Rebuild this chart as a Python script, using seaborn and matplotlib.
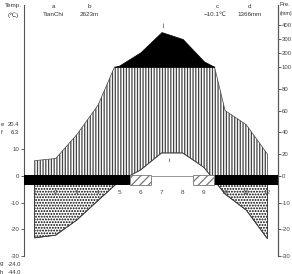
import numpy as np
import pandas as pd
import matplotlib
matplotlib.use("Agg")
import matplotlib.pyplot as plt
import seaborn as sns

# ---- data -------------------------------------------------------------
months = np.arange(1, 13)
month_labels = [str(m) for m in months]
temp = np.array([-23.2, -22.2, -16.5, -9.2, -2.0, 2.2, 8.6, 8.6, 3.2, -6.8, -12.8, -23.5])   # deg C
precip = np.array([14, 16, 38, 65, 110, 205, 350, 300, 140, 60, 47, 20])                     # mm
frost_months = [1, 2, 3, 4, 5, 10, 11, 12]          # mean minimum below 0
prob_frost_months = [6, 9]                          # absolute minimum below 0
station = "TianChi"
altitude = "2623m"
mean_temp = "\u221210.1\u2103"
annual_precip = "1366mm"
e_val, f_val = "20.4", "6.3"
g_val, h_val = "-24.0", "-44.0"
temp_ticks = [-30, -20, -10, 0, 10]
prec_ticks = [0, 20, 40, 60, 80, 100, 200, 300, 400]
neg_ticks = [-10, -20, -30]

# ---- scale rules of the diagram ----------------------------------------
R = 2.45          # mm per degC
C = 0.128         # compression above 100 mm


def fwd(p):
    p = np.asarray(p, dtype=float)
    return np.where(p <= 100, p, 100 + (p - 100) * C)


def inv(q):
    q = np.asarray(q, dtype=float)
    return np.where(q <= 100, q, 100 + (q - 100) / C)


sns.set_style("white")
plt.rcParams["font.family"] = ["Liberation Sans", "DejaVu Sans"]
plt.rcParams["hatch.linewidth"] = 0.9

fig = plt.figure(figsize=(2.92, 2.74), dpi=100)
ax = fig.add_axes([24 / 292, 18 / 274, 254 / 292, 251 / 274])
ax.set_yscale("function", functions=(fwd, inv))

# crossing points (100 mm for precip, 0 degC for temperature)
xs = list(months.astype(float))
for i in range(len(months) - 1):
    for arr, lvl in ((precip, 100.0), (temp, 0.0)):
        a, b = arr[i], arr[i + 1]
        if (a - lvl) * (b - lvl) < 0:
            xs.append(months[i] + (lvl - a) / (b - a))
xs = np.unique(xs)
Px = np.interp(xs, months, precip)
Tx = np.interp(xs, months, temp)

# humid period (vertical hatch)
ax.fill_between(xs, np.maximum(Tx, 0) * R, np.minimum(Px, 100),
                facecolor="white", edgecolor="#444444", hatch="||||||", lw=0.5, zorder=2)
# precipitation above 100 mm
ax.fill_between(xs, 100, Px, where=Px >= 100 - 1e-6, facecolor="black",
                edgecolor="black", lw=0.5, zorder=3)
# below zero temperature (dotted)
ax.fill_between(xs, Tx * R, 0, where=Tx <= 1e-6, facecolor="white",
                edgecolor="black", hatch="......", lw=0.5, zorder=2)

df = pd.DataFrame({"month": months, "temp": temp * R})
sns.lineplot(data=df, x="month", y="temp", color="#444444", lw=0.6, ax=ax, zorder=4)

ax.axhline(0, color="#888888", lw=0.6, zorder=1)

# frost bars
ax.bar(frost_months, -9.0, bottom=0.6, width=1.0, color="black", lw=0, zorder=5)
ax.bar(prob_frost_months, -9.0, bottom=0.6, width=1.0, facecolor="white",
       edgecolor="#777777", hatch="////", lw=0.6, zorder=5)

ax.set_xlim(0.5, 12.5)
ax.set_ylim(-30 * R, 544)
ax.set_xticks([])
ax.set_xlabel("")
ax.set_ylabel("")
for s in ("top", "bottom"):
    ax.spines[s].set_visible(False)
for s in ("left", "right"):
    ax.spines[s].set_color("#555555")
    ax.spines[s].set_linewidth(0.8)

ax.set_yticks([t * R for t in temp_ticks])
ax.set_yticklabels([str(t) for t in temp_ticks])
ax.tick_params(axis="y", length=2.2, width=0.6, pad=1.0, labelsize=4.4,
               colors="#444444", direction="out")

ax2 = ax.twinx()
ax2.set_yscale("function", functions=(fwd, inv))
ax2.set_ylim(ax.get_ylim())
ax2.set_yticks(prec_ticks + [t * R for t in neg_ticks])
ax2.set_yticklabels([str(t) for t in prec_ticks] + [str(t) for t in neg_ticks])
ax2.tick_params(axis="y", length=2.0, width=0.6, pad=0.6, labelsize=4.3,
                colors="#444444", direction="out")
for s in ("top", "bottom", "left"):
    ax2.spines[s].set_visible(False)
ax2.spines["right"].set_color("#555555")
ax2.spines["right"].set_linewidth(0.8)

# month labels inside the plot
for m, lab in zip(months, month_labels):
    ax.text(m, 0.251, lab, transform=ax.get_xaxis_transform(), ha="center",
            va="center", fontsize=4.6, color="#444444", zorder=6)

# header / side texts (pixel positions converted to figure fraction)
def ftext(x, y, s, ha="center", size=4.5, **kw):
    fig.text(x / 292, 1 - y / 274, s, ha=ha, va="center", fontsize=size,
             color="#333333", **kw)

ftext(13, 6, "Temp.")
ftext(13, 15, "(\u2103)")
ftext(53, 6, "a")
ftext(53, 15, station)
ftext(89, 6, "b")
ftext(89, 15, altitude)
ftext(217, 6, "c")
ftext(215, 15, mean_temp)
ftext(250, 6, "d")
ftext(250, 15, annual_precip)
ftext(280, 4, "Pre.", ha="left", size=4.2)
ftext(279.5, 13, "(mm)", ha="left", size=4.0)
ftext(1, 124, "e", ha="left", size=4.2)
ftext(19, 124, e_val, ha="right", size=4.2)
ftext(1, 132, "f", ha="left", size=4.2)
ftext(19, 132, f_val, ha="right", size=4.2)
ftext(0, 264, "g", ha="left", size=4.2)
ftext(21, 264, g_val, ha="right", size=4.2)
ftext(0, 272, "h", ha="left", size=4.2)
ftext(21, 272, h_val, ha="right", size=4.2)
ftext(163, 25, "j")
ftext(169, 161, "i")

fig.savefig("out.png", dpi=100)
